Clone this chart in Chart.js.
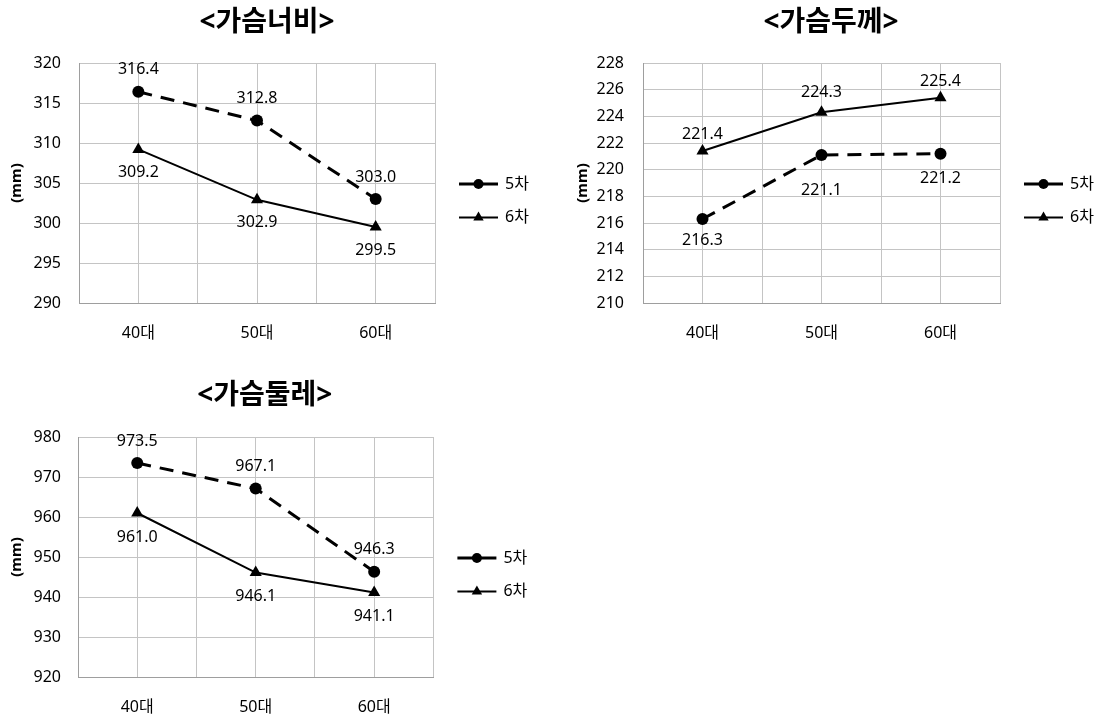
<!DOCTYPE html>
<html lang="ko">
<head>
<meta charset="utf-8">
<title>가슴 치수 비교</title>
<script src="https://cdn.jsdelivr.net/npm/chart.js@4.4.1/dist/chart.umd.min.js"></script>
<style>
  html, body { margin: 0; padding: 0; background: #ffffff; }
  body { width: 1108px; height: 719px; position: relative; overflow: hidden; }
  canvas { position: absolute; display: block; }
</style>
</head>
<body>
<canvas id="chestWidth" width="554" height="360" style="left:0;top:0"></canvas>
<canvas id="chestDepth" width="554" height="360" style="left:554px;top:0"></canvas>
<canvas id="chestGirth" width="554" height="359" style="left:0;top:360px"></canvas>
<script>
// ---- data ----
const ageGroups = ['40대', '50대', '60대'];
const seriesNames = ['5차', '6차'];

const widthTitle = '<가슴너비>';
const widthTicks = [290, 295, 300, 305, 310, 315, 320];
const width5 = [316.4, 312.8, 303.0];
const width6 = [309.2, 302.9, 299.5];

const depthTitle = '<가슴두께>';
const depthTicks = [210, 212, 214, 216, 218, 220, 222, 224, 226, 228];
const depth5 = [216.3, 221.1, 221.2];
const depth6 = [221.4, 224.3, 225.4];

const girthTitle = '<가슴둘레>';
const girthTicks = [920, 930, 940, 950, 960, 970, 980];
const girth5 = [973.5, 967.1, 946.3];
const girth6 = [961.0, 946.1, 941.1];

const unitLabel = '(mm)';

// ---- shared look ----
const FONT = "'Noto Sans', 'Noto Sans CJK KR', sans-serif";
const GRID = '#c4c4c4';
const AXIS_LINE = '#9e9e9e';
const INK = '#000000';

Chart.defaults.font.family = FONT;
Chart.defaults.color = INK;

function marker(ctx, style, x, y, r) {
  ctx.beginPath();
  if (style === 'triangle') {
    let a = 0;
    for (let k = 0; k < 3; k++) {
      const px = x + Math.sin(a) * r, py = y - Math.cos(a) * r;
      if (k === 0) ctx.moveTo(px, py); else ctx.lineTo(px, py);
      a += Math.PI * 2 / 3;
    }
    ctx.closePath();
  } else {
    ctx.arc(x, y, r, 0, Math.PI * 2);
  }
  ctx.fill();
}

// value printed next to every point
const valueLabels = {
  id: 'valueLabels',
  afterDatasetsDraw(chart) {
    const ctx = chart.ctx;
    ctx.save();
    ctx.font = '16px ' + FONT;
    ctx.fillStyle = INK;
    ctx.textAlign = 'center';
    ctx.textBaseline = 'middle';
    chart.data.datasets.forEach((ds, i) => {
      chart.getDatasetMeta(i).data.forEach((pt, j) => {
        const off = Array.isArray(ds.labelOffset) ? ds.labelOffset[j] : ds.labelOffset;
        ctx.fillText(ds.data[j].y.toFixed(1), pt.x, pt.y + off);
      });
    });
    ctx.restore();
  }
};

// series key to the right of the plot: line with marker, then name
const sideLegend = {
  id: 'sideLegend',
  afterDraw(chart) {
    const { ctx, chartArea } = chart;
    const mid = (chartArea.top + chartArea.bottom) / 2;
    chart.data.datasets.forEach((ds, i) => {
      const y = mid + 1 + i * 33.5;
      const x0 = chartArea.right + 24;
      const x1 = x0 + 39;
      ctx.save();
      ctx.strokeStyle = ds.borderColor;
      ctx.lineWidth = ds.borderWidth;
      ctx.beginPath();
      ctx.moveTo(x0, y);
      ctx.lineTo(x1, y);
      ctx.stroke();
      ctx.fillStyle = ds.pointBackgroundColor;
      marker(ctx, ds.pointStyle, (x0 + x1) / 2, y, ds.pointStyle === 'triangle' ? 6 : 5);
      ctx.fillStyle = INK;
      ctx.font = '16px ' + FONT;
      ctx.textAlign = 'left';
      ctx.textBaseline = 'middle';
      ctx.fillText(ds.label, x1 + 7, y);
      ctx.restore();
    });
  }
};

function points(values) {
  return values.map((v, j) => ({ x: j, y: v }));
}

function drawPanel(id, title, ticks, s5, s6, box, offsets) {
  const step = ticks[1] - ticks[0];
  new Chart(document.getElementById(id), {
    type: 'line',
    data: {
      datasets: [
        {
          label: seriesNames[0],
          data: points(s5),
          borderColor: '#000',
          borderWidth: 3,
          borderDash: [14, 9],
          pointStyle: 'circle',
          pointRadius: 6,
          pointBackgroundColor: '#000',
          pointBorderWidth: 0,
          tension: 0,
          labelOffset: offsets[0]
        },
        {
          label: seriesNames[1],
          data: points(s6),
          borderColor: '#000',
          borderWidth: 2,
          pointStyle: 'triangle',
          pointRadius: 7,
          pointBackgroundColor: '#000',
          pointBorderWidth: 0,
          tension: 0,
          labelOffset: offsets[1]
        }
      ]
    },
    options: {
      responsive: false,
      animation: false,
      events: [],
      layout: { padding: { left: 0, right: box.padRight, top: 0, bottom: 0 } },
      plugins: {
        legend: { display: false },
        tooltip: { enabled: false },
        title: {
          display: true,
          text: title,
          color: INK,
          font: { family: FONT, size: 28, weight: 'bold', lineHeight: 1.2 },
          padding: { top: box.titleTop, bottom: box.titleBottom }
        }
      },
      scales: {
        x: {
          type: 'linear',
          min: -0.5,
          max: ageGroups.length - 0.5,
          afterFit(s) { s.height = box.xAxisHeight; },
          grid: { color: GRID, lineWidth: 1, drawTicks: false },
          border: { display: true, color: AXIS_LINE, width: 1 },
          ticks: {
            stepSize: 0.5,
            autoSkip: false,
            maxRotation: 0,
            padding: 21,
            color: INK,
            font: { size: 16 },
            callback(v) {
              const r = Math.round(v);
              return Math.abs(v - r) < 1e-6 ? (ageGroups[r] || '') : '';
            }
          }
        },
        y: {
          type: 'linear',
          position: 'left',
          min: ticks[0],
          max: ticks[ticks.length - 1],
          afterFit(s) { s.width = box.yAxisWidth; },
          grid: { color: GRID, lineWidth: 1, drawTicks: false },
          border: { display: true, color: AXIS_LINE, width: 1 },
          ticks: {
            stepSize: step,
            autoSkip: false,
            padding: box.yTickPad,
            color: INK,
            font: { size: 16 }
          },
          title: {
            display: true,
            text: unitLabel,
            color: INK,
            font: { size: 15, weight: 'bold', lineHeight: 1.2 },
            padding: { top: box.yTitlePad, bottom: 0 }
          }
        },
        side: {
          type: 'linear',
          axis: 'y',
          position: 'right',
          display: true,
          afterFit(s) { s.width = box.sideWidth; },
          grid: { display: false, drawTicks: false },
          border: { display: false },
          ticks: { display: false }
        }
      }
    },
    plugins: [valueLabels, sideLegend]
  });
}

drawPanel('chestWidth', widthTitle, widthTicks, width5, width6,
  { yAxisWidth: 79, sideWidth: 99, padRight: 20, titleTop: 6.2, titleBottom: 23.2,
    xAxisHeight: 57, yTickPad: 18, yTitlePad: 8 },
  [-22, 23]);

drawPanel('chestDepth', depthTitle, depthTicks, depth5, depth6,
  { yAxisWidth: 89, sideWidth: 108, padRight: 0, titleTop: 6.2, titleBottom: 23.2,
    xAxisHeight: 57, yTickPad: 19, yTitlePad: 20 },
  [[21, 35, 25], [-17, -20, -16]]);

drawPanel('chestGirth', girthTitle, girthTicks, girth5, girth6,
  { yAxisWidth: 78, sideWidth: 96, padRight: 24.6, titleTop: 19.2, titleBottom: 24.2,
    xAxisHeight: 42, yTickPad: 17, yTitlePad: 8 },
  [-22, 24]);
</script>
</body>
</html>
